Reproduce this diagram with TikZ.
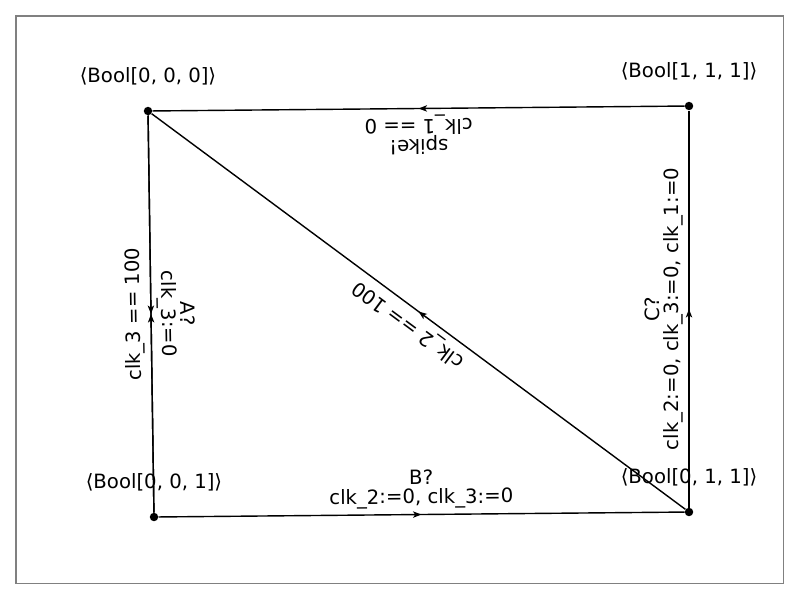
\documentclass[tikz,border=0pt]{standalone}
\usepackage{fontspec}
\setmainfont{DejaVu Sans}
\usetikzlibrary{arrows.meta,decorations.markings}

\begin{document}
\begin{tikzpicture}[
        x=0.025cm, y=-0.025cm,
        font=\fontsize{14}{13.5}\selectfont,
        state/.style={circle, fill=black, inner sep=0pt, minimum size=6pt},
        statelabel/.style={inner sep=0pt, label distance=15pt},
        trans/.style={line width=1pt, postaction={decorate},
            decoration={markings, mark=at position 0.5 with {\arrow{Stealth[length=6pt, width=4.5pt, inset=1.5pt]}}}},
        guard/.style={midway, sloped, above, allow upside down, align=center, inner sep=4pt}
    ]
        \useasboundingbox (0,0) rectangle (800,600);
        \draw[gray, line width=1.4pt] (16,16) rectangle (783.5,583.5);

        % locations
        \node (s000) [state, label={[statelabel]above:⟨Bool[0, 0, 0]⟩}] at (148,111) {};
        \node (s111) [state, label={[statelabel]above:⟨Bool[1, 1, 1]⟩}] at (689,106) {};
        \node (s011) [state, label={[statelabel]above:⟨Bool[0, 1, 1]⟩}] at (689,512) {};
        \node (s001) [state, label={[statelabel]above:⟨Bool[0, 0, 1]⟩}] at (154,517) {};

        % transitions
        \draw [trans] (s111) -- node[guard] {spike!\\clk\_1 == 0} (s000);
        \draw [trans] (s011) -- node[guard] {clk\_2 == 100} (s000);
        \draw [trans] (s000) -- node[guard] {A?\\clk\_3:=0} (s001);
        \draw [trans] (s001) -- node[guard] {clk\_3 == 100} (s000);
        \draw [trans] (s001) -- node[guard] {B?\\clk\_2:=0, clk\_3:=0} (s011);
        \draw [trans] (s011) -- node[guard] {C?\\clk\_2:=0, clk\_3:=0, clk\_1:=0} (s111);
    \end{tikzpicture}
\end{document}
